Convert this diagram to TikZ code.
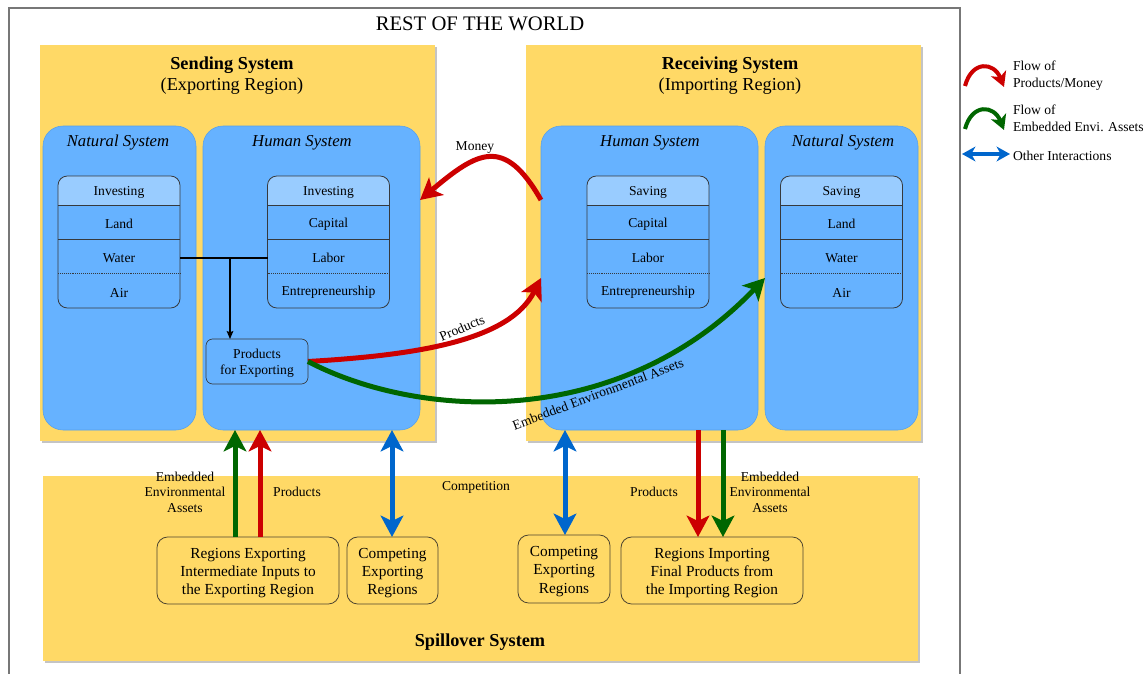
\documentclass[tikz,border=0pt]{standalone}
\usepackage{fontspec}
\setmainfont{Liberation Serif}
\usetikzlibrary{arrows.meta,calc,shadows}
\definecolor{yel}{HTML}{FFD966}
\definecolor{blu}{HTML}{66B2FF}
\definecolor{bluedge}{HTML}{559FEA}
\definecolor{hdr}{HTML}{99CCFF}
\definecolor{dk}{HTML}{36393D}
\definecolor{ydk}{HTML}{4D4530}
\definecolor{rd}{HTML}{CC0000}
\definecolor{gr}{HTML}{006600}
\definecolor{bl}{HTML}{0066CC}
\definecolor{shd}{HTML}{C4C4C4}
\definecolor{frm}{HTML}{777777}
\newcommand\fsz[2]{\fontsize{#1}{#2}\selectfont}
\newcommand\ftable[6]{%
 \node[tbl, wh={122}{132}] (#1) at (#2,242) {};
 \begin{scope}
  \clip[rounded corners=7pt] (#1.north west) rectangle (#1.south east);
  \fill[hdr] (#1.north west) rectangle ($(#1.north east)+(0,29)$);
 \end{scope}
 \draw[dk, line width=0.6pt, rounded corners=7pt] (#1.north west) rectangle (#1.south east);
 \draw[dk, line width=0.6pt] ($(#1.north west)+(0,29)$) -- ($(#1.north east)+(0,29)$);
 \draw[dk, line width=0.45pt] ($(#1.north west)+(0,63)$) -- ($(#1.north east)+(0,63)$);
 \draw[dk, line width=0.45pt, densely dotted] ($(#1.north west)+(0,97)$) -- ($(#1.north east)+(0,97)$);
 \node[row, wh={122}{29}] (#1-h) at (#2,192.5) {#3};
 \node[row, wh={122}{34}] (#1-1) at (#2,224) {#4};
 \node[row, wh={122}{34}] (#1-2) at (#2,258) {#5};
 \node[row, wh={122}{35}] (#1-3) at (#2,292.5) {#6};
}
\begin{document}
\begin{tikzpicture}[x=0.75pt,y=-0.75pt,
 every node/.style={inner sep=0pt, outer sep=0pt},
 wh/.style 2 args={minimum width=#1*0.75pt, minimum height=#2*0.75pt},
 region/.style={fill=yel, draw=none, drop shadow={shadow xshift=1.6pt, shadow yshift=-1.6pt, fill=shd, opacity=1}},
 sys/.style={fill=blu, draw=bluedge, line width=0.4pt, rounded corners=15pt},
 systitle/.style={font=\fsz{12.5}{15}\itshape},
 head/.style={font=\fsz{13.7}{15.8}, align=center},
 tbl/.style={fill=blu, draw=none, rounded corners=7pt},
 row/.style={font=\fsz{10.2}{12}},
 ybox/.style={fill=yel, draw=ydk, line width=0.6pt, rounded corners=8pt},
 ytext/.style={align=center, font=\fsz{11.5}{13.75}},
 pbox/.style={fill=blu, draw=dk, line width=0.5pt, rounded corners=5pt},
 lbl/.style={font=\fsz{10.2}{11.6}, align=center},
 thick arrow/.style={line width=3.75pt, -{Stealth[length=16pt,width=17pt,inset=4pt]}},
 rarrow/.style={thick arrow, draw=rd, color=rd},
 garrow/.style={thick arrow, draw=gr, color=gr},
 barrow/.style={line width=3.75pt, draw=bl, color=bl, {Stealth[length=16pt,width=17pt,inset=4pt]}-{Stealth[length=16pt,width=17pt,inset=4pt]}},
 legarrow/.style={line width=3pt, -{Stealth[length=11pt,width=12pt,inset=3pt]}},
]
\useasboundingbox (0,0) rectangle (1146,674);

% outer frame
\draw[frm, line width=0.9pt] (9,674) -- (9,8) -- (960,8) -- (960,674);
\node[font=\fsz{15.5}{18}] (title) at (480,24) {REST OF THE WORLD};

% regions
\node[region, wh={395}{396}] (send) at (237.5,243) {};
\node[region, wh={395}{396}] (recv) at (723.5,243) {};
\node[region, wh={875}{185}] (spill) at (480.5,568.5) {};

\node[head] (sendt) at (232,75.5) {\textbf{Sending System}\\(Exporting Region)};
\node[head] (recvt) at (730,75.5) {\textbf{Receiving System}\\(Importing Region)};
\node[font=\fsz{13.7}{15.8}\bfseries] (spillt) at (480,642) {Spillover System};

% systems
\node[sys, wh={153}{304}] (nsL) at (119.5,278) {};
\node[sys, wh={217}{304}] (hsL) at (311.5,278) {};
\node[sys, wh={217}{304}] (hsR) at (649.5,278) {};
\node[sys, wh={153}{304}] (nsR) at (841.5,278) {};
\node[systitle] (nsLt) at (118,143) {Natural System};
\node[systitle] (hsLt) at (302,143) {Human System};
\node[systitle] (hsRt) at (650,143) {Human System};
\node[systitle] (nsRt) at (843,143) {Natural System};

% tables
\ftable{tnL}{119}{Investing}{Land}{Water}{Air}
\ftable{thL}{328.5}{Investing}{Capital}{Labor}{Entrepreneurship}
\ftable{thR}{648}{Saving}{Capital}{Labor}{Entrepreneurship}
\ftable{tnR}{841.5}{Saving}{Land}{Water}{Air}

% products for exporting
\node[pbox, wh={102}{45}] (pfe) at (257,361.5) {};
\node[lbl, font=\fsz{10.2}{12}] (pfet) at (257,363) {Products\\for Exporting};
\draw[black, line width=0.8pt] (tnL-2.east) -- (thL-2.west);
\coordinate (jn) at ($(tnL-2.east)+(50,0)$);
\draw[black, line width=0.8pt, -{Stealth[length=6pt,width=5pt,inset=1pt]}] (jn) -- (jn |- pfe.north);

% flows between regions
\draw[rarrow] ($(hsR.west)+(0,-78)$) .. controls (504,135) and (477,152) .. ($(hsL.east)+(0,-78)$);
\node[lbl] (money) at (475,148) {Money};
\draw[rarrow] (pfe.east) .. controls (420,355) and (510,340) .. (hsR.west);
\node[lbl, rotate=23] (prodc) at (462,328) {Products};
\draw[garrow] (pfe.east) .. controls (420,420) and (620,430) .. (nsR.west);
\node[lbl, rotate=20.5] (eeac) at (598,394) {Embedded Environmental Assets};

% spillover boxes
\node[ybox, wh={182}{67}] (rexp) at (248,570.5) {};
\node[ytext] (rexpt) at (248,573) {Regions Exporting\\Intermediate Inputs to\\the Exporting Region};
\node[ybox, wh={91}{67}] (cexpL) at (392.5,570.5) {};
\node[ytext] (cexpLt) at (392.5,573) {Competing\\Exporting\\Regions};
\node[ybox, wh={92}{68}] (cexpR) at (564,569) {};
\node[ytext] (cexpRt) at (564,571.5) {Competing\\Exporting\\Regions};
\node[ybox, wh={182}{67}] (rimp) at (712,570.5) {};
\node[ytext] (rimpt) at (712,573) {Regions Importing\\Final Products from\\the Importing Region};

% vertical arrows
\draw[garrow] ($(rexp.north)+(-13,0)$) -- ($(hsL.south)+(-76.5,0)$);
\draw[rarrow] ($(rexp.north)+(12,0)$) -- ($(hsL.south)+(-51.5,0)$);
\draw[barrow] ($(hsL.south)+(80.5,0)$) -- ($(cexpL.north)+(-0.5,0)$);
\draw[barrow] ($(hsR.south)+(-84.5,0)$) -- ($(cexpR.north)+(1,0)$);
\draw[rarrow] ($(hsR.south)+(48.5,0)$) -- ($(rimp.north)+(-14,0)$);
\draw[garrow] ($(hsR.south)+(73.5,0)$) -- ($(rimp.north)+(11,0)$);

\node[lbl] (eeaL) at (185,492) {Embedded\\Environmental\\Assets};
\node[lbl] (prL) at (297,491.5) {Products};
\node[lbl] (comp) at (476,487.5) {Competition};
\node[lbl] (prR) at (654,491.5) {Products};
\node[lbl] (eeaR) at (770,492) {Embedded\\Environmental\\Assets};

% legend
\coordinate (lr1) at (965,86);
\coordinate (lr2) at (1004,87);
\draw[legarrow, draw=rd, color=rd] (lr1) .. controls (972,60) and (994,62) .. (lr2);
\node[lbl, anchor=west, align=left, font=\fsz{10.2}{12.7}] (legr) at (1013,76) {Flow of\\Products/Money};
\coordinate (lg1) at (965,129);
\coordinate (lg2) at (1004,130);
\draw[legarrow, draw=gr, color=gr] (lg1) .. controls (972,103) and (994,105) .. (lg2);
\node[lbl, anchor=west, align=left, font=\fsz{10.2}{12.7}] (legg) at (1013,118.5) {Flow of\\Embedded Envi. Assets};
\coordinate (lb1) at (962,154);
\coordinate (lb2) at (1010,154);
\draw[line width=3pt, draw=bl, color=bl, {Stealth[length=10pt,width=11pt,inset=3pt]}-{Stealth[length=10pt,width=11pt,inset=3pt]}] (lb1) -- (lb2);
\node[lbl, anchor=west] (legb) at (1013,156) {Other Interactions};
\end{tikzpicture}
\end{document}
